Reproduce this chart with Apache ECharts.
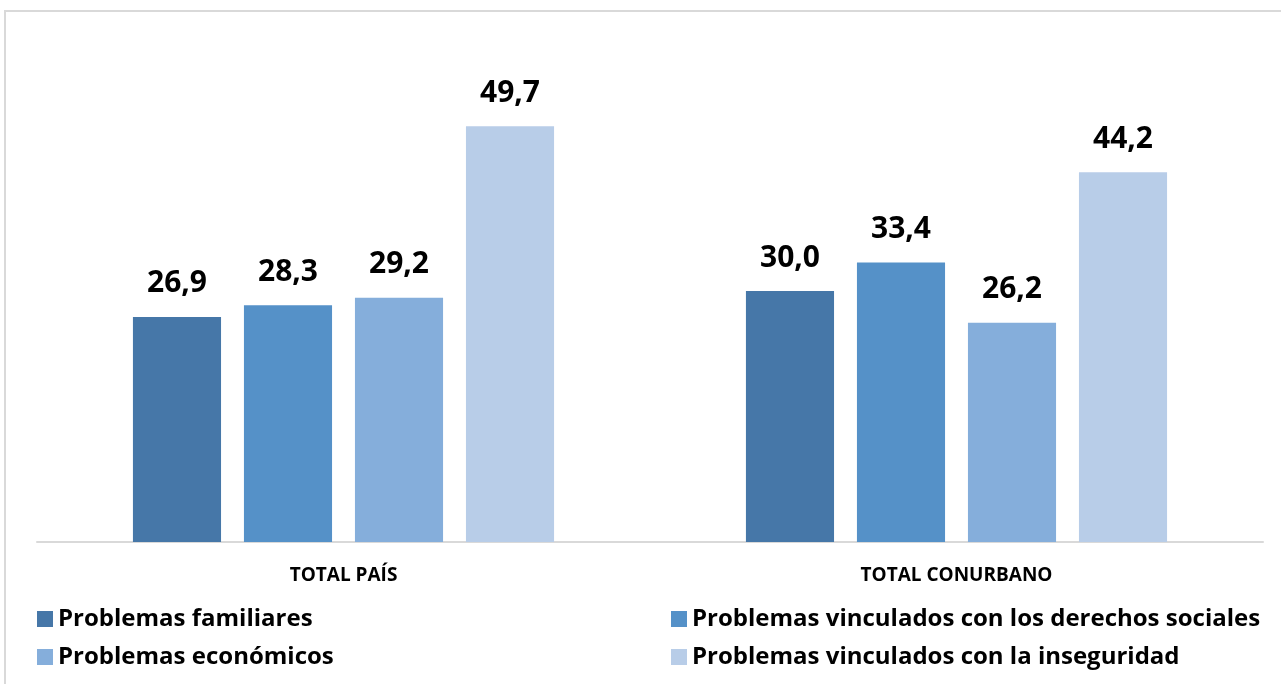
<!DOCTYPE html>
<html>
<head>
<meta charset="utf-8">
<script src="https://cdn.jsdelivr.net/npm/echarts@6/dist/echarts.min.js"></script>
<style>
  html, body { margin: 0; padding: 0; background: #fff; }
  #chart { width: 1281px; height: 684px; }
</style>
</head>
<body>
<div id="chart"></div>
<script>
// categorías y series
var categorias = ['TOTAL PAÍS', 'TOTAL CONURBANO'];
var nombres = [
    'Problemas familiares',
    'Problemas vinculados con los derechos sociales',
    'Problemas económicos',
    'Problemas vinculados con la inseguridad'
];
var familiares = [26.9, 30.0];
var derechosSociales = [28.3, 33.4];
var economicos = [29.2, 26.2];
var inseguridad = [49.7, 44.2];
var colores = ['#4677a8', '#5591c8', '#85aedb', '#b8cde8'];

var fuente = '"Open Sans", Lato, sans-serif';

function serie(nombre, datos, color) {
    return {
        name: nombre,
        type: 'bar',
        data: datos,
        barGap: '26%',
        barCategoryGap: '31.3%',
        itemStyle: { color: color },
        label: {
            show: true,
            position: 'top',
            distance: 18,
            fontFamily: fuente,
            fontWeight: 'bold',
            fontSize: 30,
            color: '#000',
            formatter: function (p) {
                return p.value.toFixed(1).replace('.', ',');
            }
        }
    };
}

var leyendaTexto = { fontFamily: fuente, fontWeight: 'bold', fontSize: 24, color: '#000' };

var chart = echarts.init(document.getElementById('chart'));
chart.setOption({
    animation: false,
    graphic: [{
        type: 'rect',
        shape: { x: 5, y: 11, width: 1300, height: 700 },
        style: { fill: 'none', stroke: '#d9d9d9', lineWidth: 2 },
        silent: true
    }],
    grid: { left: 37, top: 40, width: 1226, height: 502 },
    legend: [{
        data: [nombres[0], nombres[2]],
        orient: 'vertical',
        left: 32,
        top: 602,
        itemWidth: 16,
        itemHeight: 16,
        itemGap: 14,
        icon: 'rect',
        textStyle: leyendaTexto
    }, {
        data: [nombres[1], nombres[3]],
        orient: 'vertical',
        left: 666,
        top: 602,
        itemWidth: 16,
        itemHeight: 16,
        itemGap: 14,
        icon: 'rect',
        textStyle: leyendaTexto
    }],
    xAxis: {
        type: 'category',
        data: categorias,
        axisLine: { lineStyle: { color: '#d9d9d9', width: 2 } },
        axisTick: { show: false },
        axisLabel: {
            margin: 24,
            fontFamily: fuente,
            fontWeight: 'bold',
            fontSize: 19,
            color: '#000'
        }
    },
    yAxis: {
        type: 'value',
        min: 0,
        max: 60,
        show: false,
        splitLine: { show: false }
    },
    series: [
        serie(nombres[0], familiares, colores[0]),
        serie(nombres[1], derechosSociales, colores[1]),
        serie(nombres[2], economicos, colores[2]),
        serie(nombres[3], inseguridad, colores[3])
    ]
});
</script>
</body>
</html>
